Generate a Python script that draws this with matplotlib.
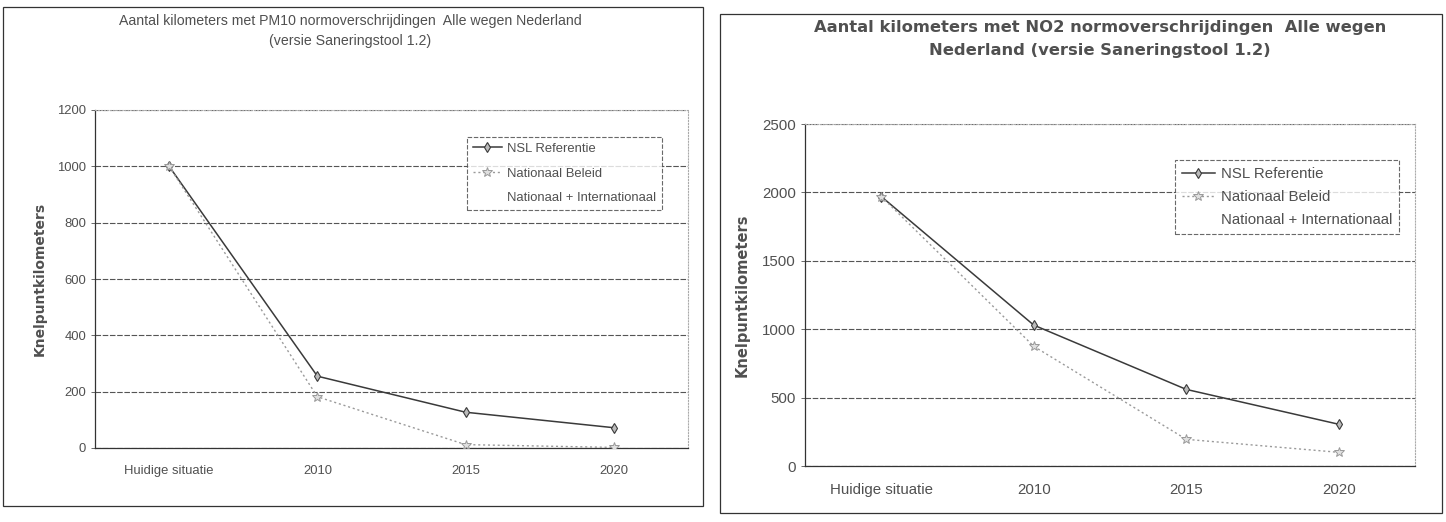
import matplotlib.pyplot as plt
from matplotlib.lines import Line2D
from matplotlib.patches import Rectangle

plt.rcParams['font.family'] = ['Liberation Sans', 'DejaVu Sans']

# categories on the x axis
categories = ['Huidige situatie', '2010', '2015', '2020']

# PM10 chart
pm10_nsl = [1000, 255, 127, 72]
pm10_nationaal = [1000, 182, 12, 2]
pm10_yticks = [0, 200, 400, 600, 800, 1000, 1200]

# NO2 chart
no2_nsl = [1970, 1030, 560, 305]
no2_nationaal = [1970, 875, 195, 100]
no2_yticks = [0, 500, 1000, 1500, 2000, 2500]

series_names = ['NSL Referentie', 'Nationaal Beleid', 'Nationaal + Internationaal']

W, H = 1446, 522
TXT = '#505050'

fig = plt.figure(figsize=(W / 100, H / 100), dpi=100)


def box(x0, y0, x1, y1):
    # pixel box (top-left origin) -> figure fraction rect
    return [x0 / W, 1 - y1 / H, (x1 - x0) / W, (y1 - y0) / H]


def frame(x0, y0, x1, y1):
    fig.patches.append(Rectangle((x0 / W, 1 - y1 / H), (x1 - x0) / W, (y1 - y0) / H,
                                 transform=fig.transFigure, fill=False,
                                 edgecolor='#333333', lw=0.9))


def chart(rect, nsl, nat, yticks, title, tx, ty, title_kw, ylab_x, ylab_fs,
          leg_rect, fs, lspace):
    ax = fig.add_axes(box(*rect))
    x = range(len(categories))
    ax.plot(x, nsl, color='#3a3a3a', lw=1.1, marker='d', ms=5,
            mfc='#bbbbbb', mec='#3a3a3a', mew=0.8, zorder=3)
    ax.plot(x, nat, color='#9a9a9a', lw=1.0, ls=(0, (1.5, 2)), marker='*', ms=7,
            mfc='#e0e0e0', mec='#999999', mew=0.7, zorder=3)
    ax.set_xlim(-0.5, len(categories) - 0.5)
    ax.set_ylim(yticks[0], yticks[-1])
    ax.set_yticks(yticks)
    ax.set_xticks(list(x))
    ax.set_xticklabels(categories)
    ax.tick_params(axis='both', labelsize=fs, colors=TXT, length=3, width=0.6)
    ax.tick_params(axis='x', length=0, pad=12)
    ax.yaxis.grid(True, color='#555555', lw=0.8, ls=(0, (5, 1.5)))
    ax.set_axisbelow(True)
    for s in ['top', 'right']:
        ax.spines[s].set_color('#aaaaaa')
        ax.spines[s].set_linestyle(':')
        ax.spines[s].set_linewidth(0.8)
    for s in ['left', 'bottom']:
        ax.spines[s].set_color('#333333')
        ax.spines[s].set_linewidth(0.9)
    fig.text(ylab_x / W, 1 - (rect[1] + rect[3]) / 2 / H, 'Knelpuntkilometers',
             rotation=90, ha='center', va='center', fontsize=ylab_fs,
             fontweight='bold', family='DejaVu Sans', color=TXT)
    fig.text(tx / W, 1 - ty / H, title, ha='center', va='center', color=TXT,
             **title_kw)

    handles = [
        Line2D([], [], color='#3a3a3a', lw=1.1, marker='d', ms=5, mfc='#bbbbbb',
               mec='#3a3a3a', mew=0.8),
        Line2D([], [], color='#9a9a9a', lw=1.0, ls=(0, (1.5, 2)), marker='*', ms=7,
               mfc='#e0e0e0', mec='#999999', mew=0.7),
        Line2D([], [], color='none'),
    ]
    lx0, ly0 = leg_rect
    ax_w = rect[2] - rect[0]
    ax_h = rect[3] - rect[1]
    leg = ax.legend(handles, series_names, loc='upper left',
                    bbox_to_anchor=((lx0 - rect[0]) / ax_w, 1 - (ly0 - rect[1]) / ax_h),
                    fontsize=fs, frameon=True, fancybox=False, handlelength=2.2,
                    handletextpad=0.4, borderpad=0.45, labelspacing=lspace,
                    borderaxespad=0)
    leg.get_frame().set_edgecolor('#444444')
    leg.get_frame().set_linewidth(0.8)
    leg.get_frame().set_linestyle((0, (4, 1.5)))
    for t in leg.get_texts():
        t.set_color(TXT)
    return ax


# left chart: PM10
frame(3, 7, 703, 506)
chart((95, 110, 688, 448), pm10_nsl, pm10_nationaal, pm10_yticks,
      'Aantal kilometers met PM10 normoverschrijdingen  Alle wegen Nederland\n'
      '(versie Saneringstool 1.2)',
      350, 31, dict(fontsize=10.2, linespacing=1.5), 40, 10,
      (467, 137), 9.4, 0.95)

# right chart: NO2
frame(720, 14, 1442, 513)
chart((805, 124, 1415, 466), no2_nsl, no2_nationaal, no2_yticks,
      'Aantal kilometers met NO2 normoverschrijdingen  Alle wegen\n'
      'Nederland (versie Saneringstool 1.2)',
      1100, 39, dict(fontsize=11.8, fontweight='bold', family='DejaVu Sans',
                     linespacing=1.65),
      742, 10.5, (1175, 160), 10.8, 0.62)

fig.savefig('out.png', dpi=100, facecolor='white')
